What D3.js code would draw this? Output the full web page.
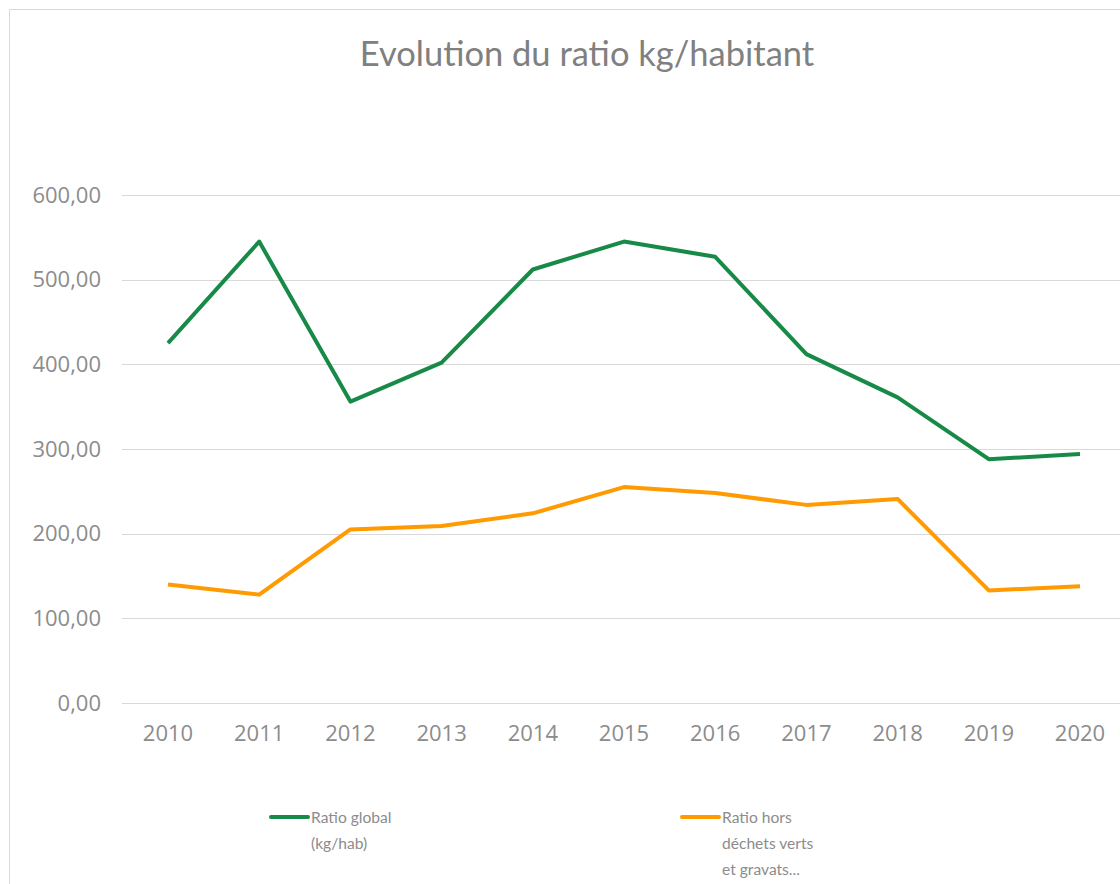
<!DOCTYPE html>
<meta charset="utf-8">
<head>
<style>
 body { margin: 0; background: #fff; }
 .title { font-family: Lato, "Open Sans", sans-serif; font-size: 34.5px; fill: #808080; }
 .axis text { font-family: "Open Sans", sans-serif; font-size: 22px; fill: #8c8c8c; }
 .grid line { stroke: #d9d9d9; stroke-width: 1px; }
 .legend text { font-family: Lato, "Open Sans", sans-serif; font-size: 15.6px; fill: #8c8c8c; }
</style>
</head>
<body>
<svg width="1120" height="884"></svg>
<script src="https://d3js.org/d3.v7.min.js"></script>
<script>
  // data
  var years = ['2010', '2011', '2012', '2013', '2014', '2015', '2016', '2017', '2018', '2019', '2020'];
  var ratioGlobal = [425, 545, 356, 402, 512, 545, 527, 412, 361, 288, 294];
  var ratioHors = [140, 128, 205, 209, 224, 255, 248, 234, 241, 133, 138];
  var yTicks = [0, 100, 200, 300, 400, 500, 600];
  var seriesNames = [['Ratio global', '(kg/hab)'], ['Ratio hors', 'déchets verts', 'et gravats...']];
  var colors = ['#178a48', '#ff9a00'];

  var svg = d3.select('svg');
  var x = d3.scaleBand().domain(years).range([122.4, 1125.6]);
  var y = d3.scaleLinear().domain([0, 600]).range([703, 195]);

  // frame
  svg.append('line').attr('x1', 9.5).attr('x2', 1120).attr('y1', 9.5).attr('y2', 9.5)
    .attr('stroke', '#d9d9d9');
  svg.append('line').attr('x1', 9.5).attr('x2', 9.5).attr('y1', 9.5).attr('y2', 884)
    .attr('stroke', '#d9d9d9');

  svg.append('text').attr('class', 'title')
    .attr('x', 587).attr('y', 66).attr('text-anchor', 'middle')
    .text('Evolution du ratio kg/habitant');

  // gridlines
  svg.append('g').attr('class', 'grid')
    .selectAll('line').data(yTicks).join('line')
      .attr('x1', 122).attr('x2', 1126)
      .attr('y1', function(d) { return Math.round(y(d)) + 0.5; })
      .attr('y2', function(d) { return Math.round(y(d)) + 0.5; });

  var fmt = function(d) { return d3.format('.2f')(d).replace('.', ','); };
  var yAxis = svg.append('g').attr('class', 'axis')
    .attr('transform', 'translate(101,0)')
    .call(d3.axisLeft(y).tickValues(yTicks).tickFormat(fmt).tickSize(0).tickPadding(0));
  yAxis.select('.domain').remove();

  var xAxis = svg.append('g').attr('class', 'axis')
    .attr('transform', 'translate(0,' + 719 + ')')
    .call(d3.axisBottom(x).tickSize(0).tickPadding(6));
  xAxis.select('.domain').remove();

  var line = d3.line()
    .x(function(d, i) { return x(years[i]) + x.bandwidth() / 2; })
    .y(function(d) { return y(d); });

  [ratioGlobal, ratioHors].forEach(function(s, k) {
    svg.append('path').datum(s)
      .attr('fill', 'none')
      .attr('stroke', colors[k])
      .attr('stroke-width', 4)
      .attr('stroke-linejoin', 'round')
      .attr('d', line);
  });

  // legend
  var legX = [271, 682];
  var leg = svg.append('g').attr('class', 'legend');
  seriesNames.forEach(function(lines, k) {
    leg.append('line')
      .attr('x1', legX[k]).attr('x2', legX[k] + 37)
      .attr('y1', 817).attr('y2', 817)
      .attr('stroke', colors[k]).attr('stroke-width', 4).attr('stroke-linecap', 'round');
    var t = leg.append('text').attr('x', legX[k] + 40).attr('y', 823);
    lines.forEach(function(l, j) {
      t.append('tspan').attr('x', legX[k] + 40).attr('dy', j ? 26 : 0).text(l);
    });
  });
</script>
</body>
</html>
